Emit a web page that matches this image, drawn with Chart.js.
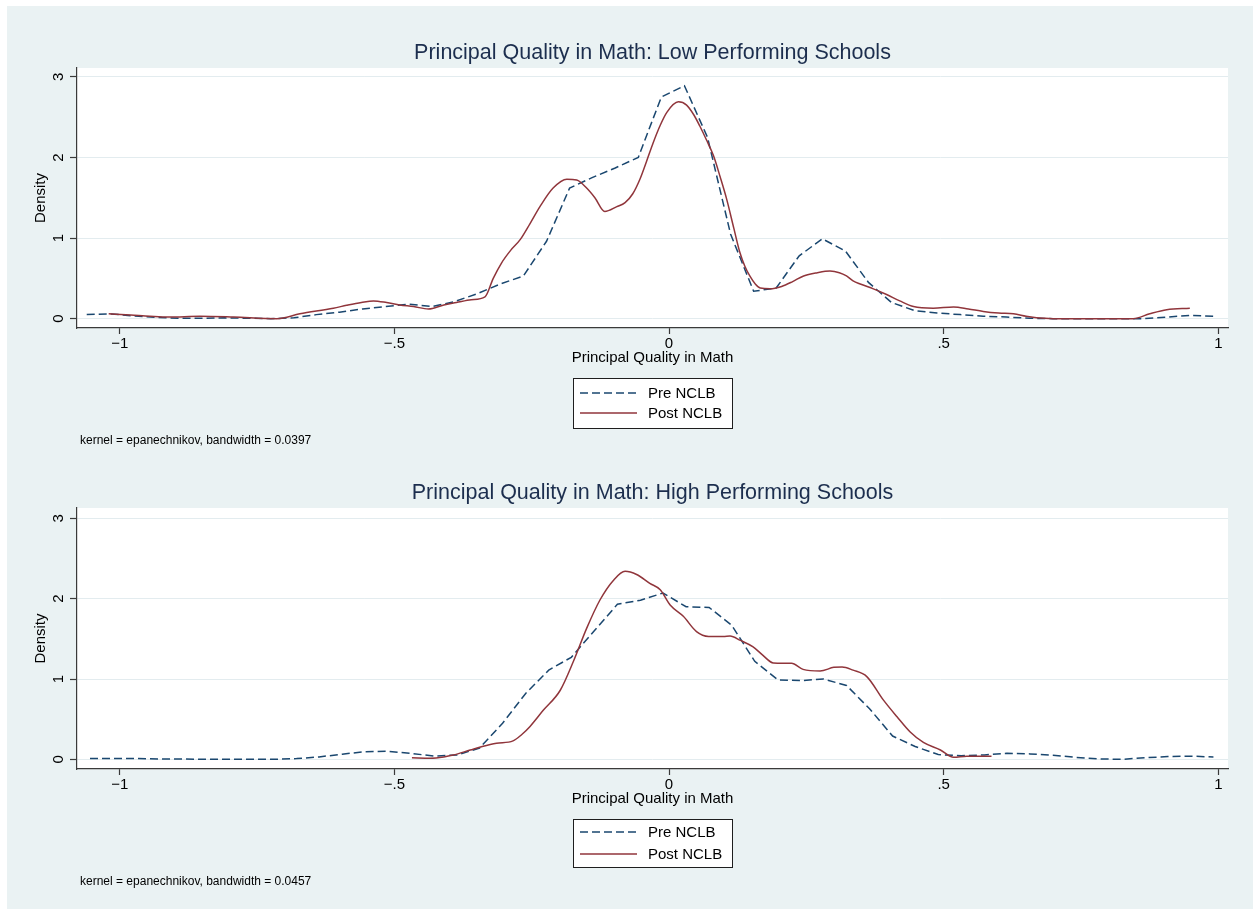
<!DOCTYPE html>
<html>
<head>
<meta charset="utf-8">
<title>Principal Quality in Math</title>
<script src="https://cdn.jsdelivr.net/npm/chart.js@4.4.1/dist/chart.umd.min.js"></script>
<style>
  html, body { margin: 0; padding: 0; background: #ffffff; }
  #panel { position: absolute; left: 7px; top: 6px; width: 1246px; height: 903px; background: #eaf2f3; }
  canvas { position: absolute; left: 7px; }
  #low { top: 6px; }
  #high { top: 450px; }
</style>
</head>
<body>
<div id="panel"></div>
<canvas id="low" width="1246" height="444"></canvas>
<canvas id="high" width="1246" height="459"></canvas>
<script>
// Axis ticks
const xTickValues = [-1, -0.5, 0, 0.5, 1];
const xTickLabels = ['\u22121', '\u2212.5', '0', '.5', '1'];
const yTickValues = [0, 1, 2, 3];

// Low performing schools: Pre NCLB density (50-point grid)
const lowPreX = [-1.060, -1.018, -0.976, -0.934, -0.893, -0.851, -0.809, -0.767, -0.725, -0.683,
  -0.642, -0.600, -0.558, -0.516, -0.474, -0.432, -0.391, -0.349, -0.307, -0.265,
  -0.223, -0.181, -0.140, -0.098, -0.056, -0.014, 0.028, 0.070, 0.112, 0.154,
  0.195, 0.237, 0.279, 0.321, 0.363, 0.405, 0.447, 0.488, 0.530, 0.572,
  0.614, 0.656, 0.698, 0.740, 0.781, 0.823, 0.865, 0.907, 0.949, 0.991];
const lowPreY = [0.05, 0.06, 0.035, 0.015, 0.005, 0.005, 0.01, 0.005, 0.0, 0.01,
  0.05, 0.08, 0.12, 0.15, 0.18, 0.15, 0.21, 0.31, 0.43, 0.53,
  0.96, 1.62, 1.75, 1.87, 2.0, 2.75, 2.89, 2.25, 1.05, 0.34,
  0.38, 0.78, 0.99, 0.84, 0.45, 0.2, 0.1, 0.07, 0.05, 0.03,
  0.02, 0.005, 0.0, 0.0, 0.0, 0.0, 0.0, 0.02, 0.04, 0.03];

// Low performing schools: Post NCLB density
const lowPostX = [-1.02, -0.98, -0.945, -0.91, -0.854, -0.793, -0.714, -0.672, -0.611, -0.587,
  -0.56, -0.538, -0.514, -0.49, -0.465, -0.438, -0.41, -0.387, -0.36, -0.335,
  -0.32, -0.305, -0.288, -0.271, -0.253, -0.235, -0.211, -0.186, -0.168, -0.150,
  -0.135, -0.117, -0.095, -0.080, -0.066, -0.053, -0.041, -0.029, -0.016, -0.004,
  0.017, 0.032, 0.045, 0.056, 0.068, 0.081, 0.093, 0.105, 0.118, 0.129,
  0.138, 0.147, 0.157, 0.166, 0.184, 0.205, 0.225, 0.245, 0.27, 0.293,
  0.31, 0.323, 0.335, 0.348, 0.372, 0.396, 0.42, 0.445, 0.481, 0.518,
  0.545, 0.572, 0.60, 0.627, 0.65, 0.669, 0.70, 0.80, 0.845, 0.875,
  0.906, 0.948];
const lowPostY = [0.06, 0.045, 0.03, 0.02, 0.03, 0.02, 0.0, 0.06, 0.13, 0.165,
  0.2, 0.22, 0.20, 0.17, 0.15, 0.12, 0.17, 0.20, 0.235, 0.27,
  0.5, 0.69, 0.85, 0.98, 1.18, 1.39, 1.62, 1.73, 1.72, 1.62,
  1.50, 1.33, 1.39, 1.44, 1.55, 1.73, 1.95, 2.18, 2.40, 2.56,
  2.69, 2.65, 2.53, 2.39, 2.22, 2.02, 1.76, 1.48, 1.12, 0.82,
  0.65, 0.53, 0.43, 0.38, 0.37, 0.40, 0.46, 0.53, 0.57, 0.59,
  0.57, 0.53, 0.47, 0.43, 0.37, 0.30, 0.22, 0.15, 0.13, 0.145,
  0.12, 0.09, 0.07, 0.06, 0.03, 0.01, 0.0, 0.0, 0.0, 0.06,
  0.11, 0.13];

// High performing schools: Pre NCLB density (50-point grid)
const highPreX = [-1.054, -1.012, -0.971, -0.929, -0.887, -0.845, -0.804, -0.762, -0.720, -0.678,
  -0.637, -0.595, -0.553, -0.512, -0.470, -0.428, -0.386, -0.345, -0.303, -0.261,
  -0.219, -0.178, -0.136, -0.094, -0.052, -0.011, 0.031, 0.073, 0.114, 0.156,
  0.198, 0.240, 0.281, 0.323, 0.365, 0.407, 0.448, 0.490, 0.532, 0.574,
  0.615, 0.657, 0.699, 0.741, 0.783, 0.824, 0.866, 0.908, 0.950, 0.991];
const highPreY = [0.01, 0.01, 0.01, 0.005, 0.005, 0.0, 0.0, 0.0, 0.0, 0.01,
  0.03, 0.065, 0.095, 0.10, 0.075, 0.04, 0.055, 0.14, 0.45, 0.82,
  1.11, 1.27, 1.60, 1.93, 1.98, 2.07, 1.90, 1.89, 1.67, 1.22,
  0.99, 0.98, 1.0, 0.92, 0.63, 0.29, 0.16, 0.06, 0.045, 0.055,
  0.075, 0.068, 0.05, 0.025, 0.005, 0.0, 0.02, 0.035, 0.04, 0.03];

// High performing schools: Post NCLB density
const highPostX = [-0.468, -0.435, -0.41, -0.393, -0.362, -0.34, -0.314, -0.284, -0.268, -0.253,
  -0.229, -0.198, -0.174, -0.15, -0.126, -0.101, -0.08, -0.059, -0.035, -0.016,
  0.002, 0.026, 0.05, 0.072, 0.099, 0.111, 0.13, 0.153, 0.17, 0.19,
  0.223, 0.244, 0.275, 0.30, 0.315, 0.335, 0.36, 0.39, 0.415, 0.439,
  0.463, 0.494, 0.518, 0.542, 0.587];
const highPostY = [0.02, 0.015, 0.03, 0.053, 0.116, 0.16, 0.2, 0.23, 0.31, 0.41,
  0.61, 0.86, 1.22, 1.63, 1.98, 2.23, 2.34, 2.30, 2.19, 2.11,
  1.92, 1.78, 1.59, 1.53, 1.53, 1.535, 1.48, 1.40, 1.30, 1.20,
  1.195, 1.12, 1.10, 1.145, 1.15, 1.11, 1.03, 0.74, 0.53, 0.34,
  0.21, 0.116, 0.025, 0.04, 0.04];

const seriesLabels = ['Pre NCLB', 'Post NCLB'];
const notes = ['kernel = epanechnikov, bandwidth = 0.0397', 'kernel = epanechnikov, bandwidth = 0.0457'];
const titles = ['Principal Quality in Math: Low Performing Schools', 'Principal Quality in Math: High Performing Schools'];

const FONT = '"Liberation Sans", Arial, Helvetica, sans-serif';
const NAVY = '#1a476f';
const MAROON = '#90353b';
const AXIS = '#3a3a3a';
const GRID = '#e3ecef';

Chart.defaults.font.family = FONT;
Chart.defaults.color = '#000';

const toPoints = (xs, ys) => xs.map((x, i) => ({ x: x, y: ys[i] }));

// White plot region, plus the boxed key and kernel note under the x axis
const plotDecor = {
  id: 'plotDecor',
  beforeDraw(chart) {
    const { ctx, chartArea: a } = chart;
    ctx.save();
    ctx.fillStyle = '#ffffff';
    ctx.fillRect(a.left, a.top, a.right - a.left, a.bottom - a.top);
    ctx.restore();
  },
  afterDraw(chart, args, opts) {
    const { ctx, chartArea: a } = chart;
    const cx = (a.left + a.right) / 2;
    const boxW = 159;
    const bx = Math.round(cx - boxW / 2);
    const by = Math.round(a.bottom + opts.boxOffset);
    ctx.save();
    ctx.fillStyle = '#ffffff';
    ctx.fillRect(bx, by, boxW, opts.boxHeight);
    ctx.strokeStyle = '#1e1e1e';
    ctx.lineWidth = 1;
    ctx.strokeRect(bx + 0.5, by + 0.5, boxW, opts.boxHeight);
    chart.data.datasets.forEach((ds, i) => {
      const y = by + opts.rows[i];
      ctx.strokeStyle = ds.borderColor;
      ctx.lineWidth = ds.borderWidth;
      ctx.setLineDash(ds.borderDash || []);
      ctx.beginPath();
      ctx.moveTo(bx + 7, y);
      ctx.lineTo(bx + 64, y);
      ctx.stroke();
      ctx.setLineDash([]);
      ctx.fillStyle = '#000';
      ctx.font = '15px ' + FONT;
      ctx.textAlign = 'left';
      ctx.textBaseline = 'middle';
      ctx.fillText(ds.label, bx + 75, y + 1);
    });
    ctx.font = '12px ' + FONT;
    ctx.fillStyle = '#000';
    ctx.textAlign = 'left';
    ctx.textBaseline = 'middle';
    ctx.fillText(opts.note, a.left + 3, a.bottom + opts.noteOffset);
    ctx.restore();
  }
};

function makeChart(id, title, preX, preY, postX, postY, note, cfg) {
  return new Chart(document.getElementById(id), {
    type: 'line',
    data: {
      datasets: [
        {
          label: seriesLabels[0],
          data: toPoints(preX, preY),
          borderColor: NAVY,
          borderWidth: 1.5,
          borderDash: [8, 4],
          tension: 0,
          pointRadius: 0,
          fill: false,
          order: 1
        },
        {
          label: seriesLabels[1],
          data: toPoints(postX, postY),
          borderColor: MAROON,
          borderWidth: 1.5,
          cubicInterpolationMode: 'monotone',
          pointRadius: 0,
          fill: false,
          order: 0
        }
      ]
    },
    options: {
      responsive: false,
      animation: false,
      devicePixelRatio: 1,
      events: [],
      layout: { padding: { left: 0, right: 25, top: 0, bottom: cfg.padBottom } },
      scales: {
        x: {
          type: 'linear',
          min: -1.0777,
          max: 1.0175,
          afterBuildTicks: (s) => { s.ticks = xTickValues.map(v => ({ value: v })); },
          afterFit: (s) => { s.height = 44; },
          ticks: {
            padding: 1,
            font: { size: 15 },
            color: '#000',
            callback: (v) => xTickLabels[xTickValues.indexOf(v)]
          },
          grid: { drawOnChartArea: false, drawTicks: true, tickLength: 6, tickColor: AXIS, tickWidth: 1.2 },
          border: { display: true, color: AXIS, width: 1.2 },
          title: {
            display: true,
            text: 'Principal Quality in Math',
            font: { size: 15 },
            color: '#000',
            padding: { top: 0, bottom: 5 }
          }
        },
        y: {
          type: 'linear',
          min: cfg.yMin,
          max: cfg.yMax,
          afterBuildTicks: (s) => { s.ticks = yTickValues.map(v => ({ value: v })); },
          afterFit: (s) => { s.width = 70; },
          ticks: {
            minRotation: 90,
            maxRotation: 90,
            crossAlign: 'center',
            padding: 7,
            font: { size: 15 },
            color: '#000'
          },
          grid: { drawOnChartArea: true, color: GRID, lineWidth: 1, drawTicks: true, tickLength: 7, tickColor: AXIS, tickWidth: 1.2 },
          border: { display: true, color: AXIS, width: 1.2 },
          title: {
            display: true,
            text: 'Density',
            font: { size: 15 },
            color: '#000',
            padding: { top: 25, bottom: 0 }
          }
        }
      },
      plugins: {
        legend: { display: false },
        tooltip: { enabled: false },
        title: {
          display: true,
          text: title,
          fullSize: false,
          color: '#1c2e4e',
          font: { size: 21.5, weight: 'normal' },
          padding: { top: cfg.titleTop, bottom: cfg.titleBottom }
        },
        plotDecor: {
          note: note,
          boxOffset: 50,
          boxHeight: cfg.boxHeight,
          rows: cfg.rows,
          noteOffset: 113
        }
      }
    },
    plugins: [plotDecor]
  });
}

makeChart('low', titles[0], lowPreX, lowPreY, lowPostX, lowPostY, notes[0],
  { padBottom: 78, yMin: -0.116, yMax: 3.11, titleTop: 34.4, titleBottom: 1.8, boxHeight: 50, rows: [15, 35] });
makeChart('high', titles[1], highPreX, highPreY, highPostX, highPostY, notes[1],
  { padBottom: 96, yMin: -0.12, yMax: 3.128, titleTop: 30.2, titleBottom: 2.0, boxHeight: 48, rows: [13, 35] });
</script>
</body>
</html>
